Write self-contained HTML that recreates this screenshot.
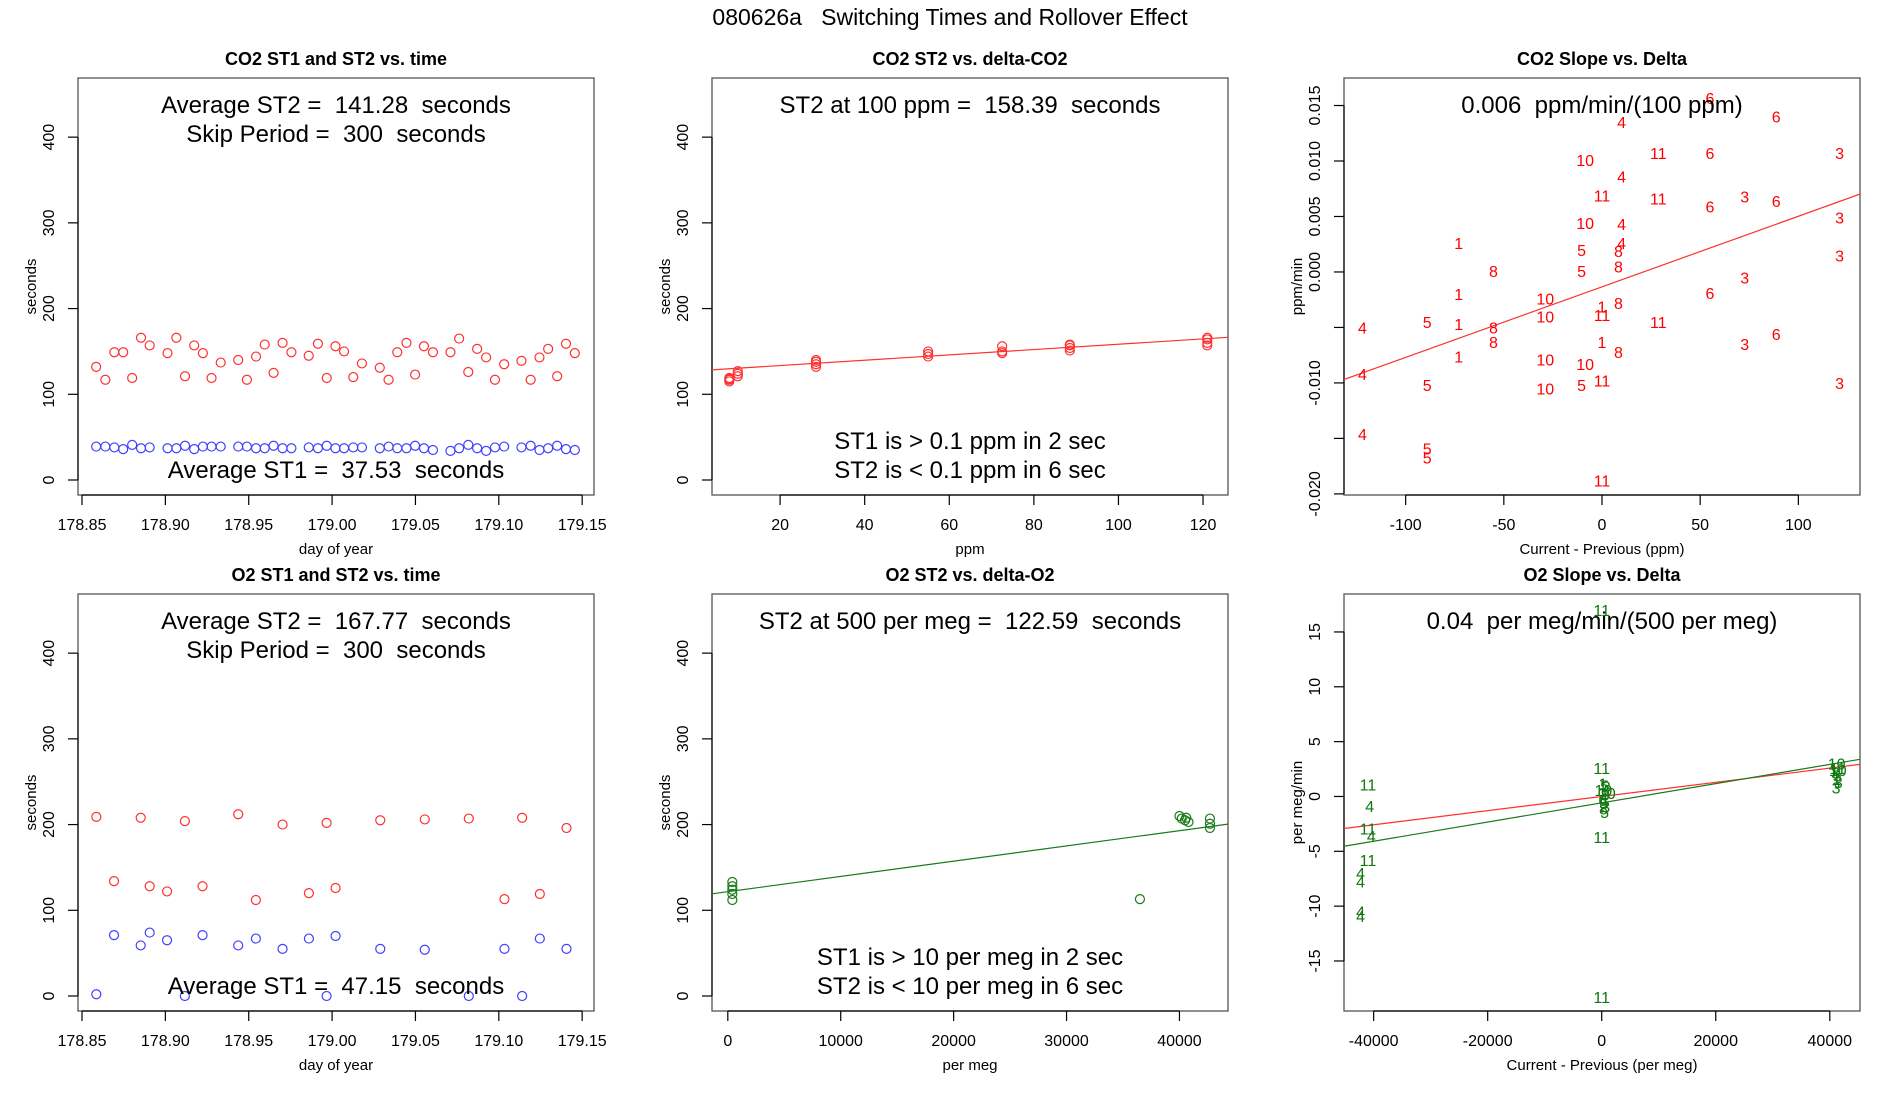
<!DOCTYPE html>
<html><head><meta charset="utf-8"><title>080626a Switching Times and Rollover Effect</title>
<style>
html,body{margin:0;padding:0;background:#fff;}
svg{display:block;font-family:"Liberation Sans",Arial,sans-serif;}
text{white-space:pre;}
</style></head>
<body>
<svg id="fig" width="1900" height="1100" viewBox="0 0 1900 1100" xmlns="http://www.w3.org/2000/svg">
<rect width="1900" height="1100" fill="#fff"/>
<text x="950" y="25" font-size="23" text-anchor="middle">080626a   Switching Times and Rollover Effect</text>
</svg>
<script>
// ---- Panel 1 data: CO2 ST1/ST2 vs time
const co2Times=[178.8585,178.8640,178.8694,178.8747,178.8801,178.8854,178.8906,178.9013,178.9066,178.9118,178.9173,178.9225,178.9277,178.9332,178.9437,178.9489,178.9544,178.9596,178.9649,178.9703,178.9756,178.9860,178.9915,178.9968,179.0020,179.0072,179.0127,179.0179,179.0286,179.0339,179.0391,179.0446,179.0498,179.0551,179.0605,179.0710,179.0762,179.0817,179.0870,179.0924,179.0977,179.1032,179.1136,179.1191,179.1244,179.1296,179.1350,179.1403,179.1456];
const co2ST2=[132,117,149,149,119,166,157,148,166,121,157,148,119,137,140,117,144,158,125,160,149,145,159,119,156,150,120,136,131,117,149,160,123,156,149,149,165,126,153,143,117,135,139,117,143,153,121,159,148];
const co2ST1=[39,39,38,36,41,37,38,37,37,40,36,39,39,39,39,39,37,37,40,37,37,38,37,40,37,37,38,38,37,39,37,37,40,37,35,34,37,41,37,34,38,39,38,40,35,37,40,36,35];
// ---- Panel 2 data: CO2 ST2 vs delta
const co2Delta=[8,8,8,8,10,10,10,28.5,28.5,28.5,28.5,55,55,55,72.5,72.5,72.5,88.5,88.5,88.5,88.5,121,121,121,121];
const co2DeltaST2=[115,117,118,119,121,124,127,132,135,138,140,144,147,150,148,150,156,151,154,157,158,157,160,164,166];
const co2Fit=[127.3,0.311];
// ---- Panel 3 data: CO2 slope vs delta
const co2SlopeX=[55,88.7,10,28.7,55,121,-8.6,10,0,28.7,72.7,88.7,55,121,-8.6,10,-73,10,-10.4,8.4,121,-55.3,-10.4,8.4,72.7,-73,55,-28.9,0,8.4,-28.9,0,-122,-89,-73,-55.3,28.7,88.7,72.7,-55.3,0,8.4,-73,-28.9,-8.6,-122,0,-89,121,-28.9,-10.4,-122,-89,-89,0];
const co2SlopeY=[0.0157,0.0140,0.0135,0.0107,0.0107,0.0107,0.0101,0.0086,0.0069,0.0066,0.0068,0.0064,0.0059,0.0049,0.0044,0.0043,0.0026,0.0026,0.0020,0.0019,0.0015,0.0001,0.0001,0.0005,-0.0005,-0.0020,-0.0019,-0.0024,-0.0031,-0.0028,-0.0040,-0.0039,-0.0050,-0.0045,-0.0047,-0.0050,-0.0045,-0.0056,-0.0065,-0.0063,-0.0063,-0.0072,-0.0076,-0.0079,-0.0083,-0.0092,-0.0098,-0.0102,-0.0100,-0.0105,-0.0102,-0.0146,-0.0159,-0.0167,-0.0188];
const co2SlopeLab=["6","6","4","11","6","3","10","4","11","11","3","6","6","3","10","4","1","4","5","8","3","8","5","8","3","1","6","10","1","8","10","11","4","5","1","8","11","6","3","8","1","8","1","10","10","4","11","5","3","10","5","4","5","5","11"];
const co2SlopeFit=[-0.00134,0.0000636];
// ---- Panel 4 data: O2 ST1/ST2 vs time
const o2Times=[178.8586,178.8692,178.8852,178.8906,178.9010,178.9117,178.9223,178.9437,178.9543,178.9703,178.9861,178.9967,179.0021,179.0289,179.0556,179.0820,179.1034,179.1140,179.1246,179.1406];
const o2ST2=[209,134,208,128,122,204,128,212,112,200,120,202,126,205,206,207,113,208,119,196];
const o2ST1=[2,71,59,74,65,0,71,59,67,55,67,0,70,55,54,0,55,0,67,55];
// ---- Panel 5 data: O2 ST2 vs delta
const o2Delta=[400,400,400,400,400,40000,40200,40500,40800,40600,42700,42700,42700,36500];
const o2DeltaST2=[112,119,124,128,133,210,207,205,203,208,207,201,196,113];
const o2Fit=[121.7,0.00178];
// ---- Panel 6 data: O2 slope vs delta
const o2SlopeX=[0,0,-41000,-40700,-41000,-40400,-41000,-42300,-42300,-42300,-42300,0,0,200,500,300,800,600,200,400,700,300,500,600,900,41200,41400,41000,41300,41200,41500,41100,41400];
const o2SlopeY=[17.0,2.6,1.1,-0.85,-2.9,-3.6,-5.8,-7.0,-7.75,-10.5,-10.9,-3.7,-18.3,1.2,1.0,0.6,0.9,0.2,-0.3,-0.6,-0.9,-1.1,-1.4,-0.2,0.3,3.0,2.6,2.2,1.9,1.6,1.3,0.8,2.4];
const o2SlopeLab=["11","11","11","4","11","4","11","4","4","4","4","11","11","1","5","10","3","8","6","5","3","8","5","1","10","10","11","3","5","1","3","3","10"];
const o2FitRed=[0.0,0.0000646];
const o2FitGreen=[-0.58,0.0000876];

const NS="http://www.w3.org/2000/svg";
const svg=document.getElementById('fig');
function mk(tag,attrs,parent){const e=document.createElementNS(NS,tag);for(const k in attrs)e.setAttribute(k,attrs[k]);(parent||svg).appendChild(e);return e;}

const BW=516, BH=417;
function panel(o){
  const g=mk('g',{});
  
  
  const L=o.x0,T=o.y0,R=L+BW,B=T+BH;
  const sx=v=>L+(v-o.xlim[0])/(o.xlim[1]-o.xlim[0])*BW;
  const sy=v=>B-(v-o.ylim[0])/(o.ylim[1]-o.ylim[0])*BH;
  const t=mk('text',{x:L+BW/2,y:T-13,'font-size':18,'font-weight':'bold','text-anchor':'middle'},g);
  t.textContent=o.title;
  
  
  const box=mk('rect',{x:L,y:T,width:BW,height:BH,fill:'none',stroke:'#555','stroke-width':1.3},g);
  
  
  const xa=mk('g',{},g);
  
  
  mk('line',{x1:sx(o.xticks[0]),x2:sx(o.xticks[o.xticks.length-1]),y1:B,y2:B,stroke:'#000','stroke-width':1.2},xa);
  o.xticks.forEach((v,i)=>{
    mk('line',{x1:sx(v),x2:sx(v),y1:B,y2:B+10,stroke:'#000','stroke-width':1.2},xa);
    const tx=mk('text',{x:sx(v),y:B+35,'font-size':16,'text-anchor':'middle'},xa);
    tx.textContent=o.xlabels[i];
    
    
  });
  const xl=mk('text',{x:L+BW/2,y:B+59,'font-size':15,'text-anchor':'middle'},g);
  xl.textContent=o.xlab;
  
  
  const ya=mk('g',{},g);
  
  
  mk('line',{x1:L,x2:L,y1:sy(o.yticks[0]),y2:sy(o.yticks[o.yticks.length-1]),stroke:'#000','stroke-width':1.2},ya);
  o.yticks.forEach((v,i)=>{
    mk('line',{x1:L-10,x2:L,y1:sy(v),y2:sy(v),stroke:'#000','stroke-width':1.2},ya);
    const ty=mk('text',{x:0,y:0,'font-size':16,'text-anchor':'middle',transform:`translate(${L-24},${sy(v)}) rotate(-90)`},ya);
    ty.textContent=o.ylabels[i];
    
    
  });
  const yl=mk('text',{x:0,y:0,'font-size':15,'text-anchor':'middle',transform:`translate(${L-42},${T+BH/2}) rotate(-90)`},g);
  yl.textContent=o.ylab;
  
  
  const cid='c'+o.name;
  const cp=mk('clipPath',{id:cid},g);mk('rect',{x:L,y:T,width:BW,height:BH},cp);
  const plot=mk('g',{'clip-path':`url(#${cid})`},g);
  
  
  (o.lines||[]).forEach(f=>{
    const ln=mk('line',{x1:sx(o.xlim[0]),x2:sx(o.xlim[1]),y1:sy(f.c[0]+f.c[1]*o.xlim[0]),y2:sy(f.c[0]+f.c[1]*o.xlim[1]),stroke:f.col,'stroke-width':1.2},plot);
    
    
  });
  (o.circles||[]).forEach(s=>{
    s.x.forEach((xv,i)=>{
      const c=mk('circle',{cx:sx(xv),cy:sy(s.y[i]),r:4.5,fill:'none',stroke:s.col,'stroke-width':1.2},plot);
      
      
    });
  });
  (o.labels||[]).forEach(s=>{
    s.x.forEach((xv,i)=>{
      const tl=mk('text',{x:sx(xv),y:sy(s.y[i])+6,'font-size':16,'text-anchor':'middle',fill:s.col},plot);
      tl.textContent=s.lab[i];
      
      
    });
  });
  (o.notes||[]).forEach(n=>{
    const tn=mk('text',{x:L+BW/2,y:n[1],'font-size':24,'text-anchor':'middle'},g);
    tn.textContent=n[0];
    
    
  });
}
const r1=78,r2=594;
const secT=[0,100,200,300,400], secL=['0','100','200','300','400'];
const dayT=[178.85,178.90,178.95,179.00,179.05,179.10,179.15], dayL=['178.85','178.90','178.95','179.00','179.05','179.10','179.15'];
const dayLim=[178.8476,179.1571], secLim=[-17.5,469];
panel({name:'co2-time-panel',x0:78,y0:r1,title:'CO2 ST1 and ST2 vs. time',xlim:dayLim,ylim:secLim,xticks:dayT,xlabels:dayL,yticks:secT,ylabels:secL,xlab:'day of year',ylab:'seconds',
  circles:[{x:co2Times,y:co2ST2,col:'#ff3030',nm:'st2-point'},{x:co2Times,y:co2ST1,col:'#4040ff',nm:'st1-point'}],
  notes:[['Average ST2 =  141.28  seconds',r1+35],['Skip Period =  300  seconds',r1+64],['Average ST1 =  37.53  seconds',r1+400]]});
panel({name:'co2-delta-panel',x0:712,y0:r1,title:'CO2 ST2 vs. delta-CO2',xlim:[3.9,125.9],ylim:secLim,xticks:[20,40,60,80,100,120],xlabels:['20','40','60','80','100','120'],yticks:secT,ylabels:secL,xlab:'ppm',ylab:'seconds',
  lines:[{c:co2Fit,col:'#ff3030'}],
  circles:[{x:co2Delta,y:co2DeltaST2,col:'#ff3030',nm:'st2-point'}],
  notes:[['ST2 at 100 ppm =  158.39  seconds',r1+35],['ST1 is > 0.1 ppm in 2 sec',r1+371],['ST2 is < 0.1 ppm in 6 sec',r1+400]]});
panel({name:'co2-slope-panel',x0:1344,y0:r1,title:'CO2 Slope vs. Delta',xlim:[-131.4,131.4],ylim:[-0.0201,0.01748],xticks:[-100,-50,0,50,100],xlabels:['-100','-50','0','50','100'],yticks:[-0.02,-0.015,-0.01,-0.005,0,0.005,0.01,0.015],ylabels:['-0.020','','-0.010','','0.000','0.005','0.010','0.015'],xlab:'Current - Previous (ppm)',ylab:'ppm/min',
  lines:[{c:co2SlopeFit,col:'#ff3030'}],
  labels:[{x:co2SlopeX,y:co2SlopeY,lab:co2SlopeLab,col:'#ff0000'}],
  notes:[['0.006  ppm/min/(100 ppm)',r1+35]]});
panel({name:'o2-time-panel',x0:78,y0:r2,title:'O2 ST1 and ST2 vs. time',xlim:dayLim,ylim:secLim,xticks:dayT,xlabels:dayL,yticks:secT,ylabels:secL,xlab:'day of year',ylab:'seconds',
  circles:[{x:o2Times,y:o2ST2,col:'#ff3030',nm:'st2-point'},{x:o2Times,y:o2ST1,col:'#4040ff',nm:'st1-point'}],
  notes:[['Average ST2 =  167.77  seconds',r2+35],['Skip Period =  300  seconds',r2+64],['Average ST1 =  47.15  seconds',r2+400]]});
panel({name:'o2-delta-panel',x0:712,y0:r2,title:'O2 ST2 vs. delta-O2',xlim:[-1400,44300],ylim:secLim,xticks:[0,10000,20000,30000,40000],xlabels:['0','10000','20000','30000','40000'],yticks:secT,ylabels:secL,xlab:'per meg',ylab:'seconds',
  lines:[{c:o2Fit,col:'#1a7a1a'}],
  circles:[{x:o2Delta,y:o2DeltaST2,col:'#1a7a1a',nm:'st2-point'}],
  notes:[['ST2 at 500 per meg =  122.59  seconds',r2+35],['ST1 is > 10 per meg in 2 sec',r2+371],['ST2 is < 10 per meg in 6 sec',r2+400]]});
panel({name:'o2-slope-panel',x0:1344,y0:r2,title:'O2 Slope vs. Delta',xlim:[-45200,45300],ylim:[-19.56,18.46],xticks:[-40000,-20000,0,20000,40000],xlabels:['-40000','-20000','0','20000','40000'],yticks:[-15,-10,-5,0,5,10,15],ylabels:['-15','-10','-5','0','5','10','15'],xlab:'Current - Previous (per meg)',ylab:'per meg/min',
  lines:[{c:o2FitRed,col:'#ff3030'},{c:o2FitGreen,col:'#1a7a1a'}],
  labels:[{x:o2SlopeX,y:o2SlopeY,lab:o2SlopeLab,col:'#117711'}],
  notes:[['0.04  per meg/min/(500 per meg)',r2+35]]});
</script>
</body></html>
